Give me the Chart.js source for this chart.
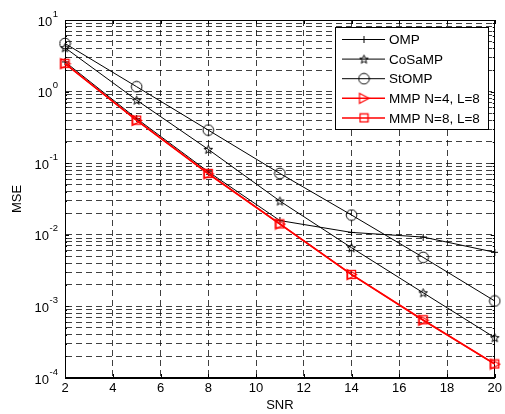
<!DOCTYPE html>
<html>
<head>
<meta charset="utf-8">
<script src="https://cdn.jsdelivr.net/npm/chart.js@4/dist/chart.umd.min.js"></script>
<style>
  html, body { margin: 0; padding: 0; background: #fff; }
  #wrap { width: 505px; height: 414px; }
</style>
</head>
<body>
<div id="wrap"><canvas id="c" width="505" height="414"></canvas></div>
<script>
/* datos */
const SNR = [2, 5, 8, 11, 14, 17, 20];
const OMP = [2.6, 0.42, 0.076, 0.0158, 0.0108, 0.0093, 0.0057];
const COSAMP = [4.1, 0.76, 0.156, 0.0296, 0.0066, 0.00155, 0.000366];
const STOMP = [4.7, 1.17, 0.29, 0.072, 0.0189, 0.00484, 0.00119];
const MMP_N4 = [2.45, 0.395, 0.071, 0.0141, 0.00278, 0.00064, 0.000156];
const MMP_N8 = [2.48, 0.40, 0.072, 0.0142, 0.0028, 0.00065, 0.000157];

const X_TICKS = [2, 4, 6, 8, 10, 12, 14, 16, 18, 20];
const Y_EXPONENTS = [-4, -3, -2, -1, 0, 1];
const LEGEND_LABELS = ["OMP", "CoSaMP", "StOMP", "MMP N=4, L=8", "MMP N=8, L=8"];

const FONT = "'Liberation Sans', Arial, Helvetica, sans-serif";
const RED = "#ff0000";

/* Marcadores estilo MATLAB */
function mkMarker(size, draw) {
    const c = document.createElement("canvas");
    c.width = size;
    c.height = size;
    const g = c.getContext("2d");
    draw(g, size / 2);
    return c;
}

const MK_PLUS = mkMarker(7, (g, m) => {
    g.strokeStyle = "#000";
    g.lineWidth = 1;
    g.beginPath();
    g.moveTo(m, 0); g.lineTo(m, 7);
    g.moveTo(0, m); g.lineTo(7, m);
    g.stroke();
});

const MK_STAR = mkMarker(11, (g, m) => {
    g.strokeStyle = "#000";
    g.lineWidth = 1;
    g.beginPath();
    for (let i = 0; i < 10; i++) {
        const r = i % 2 === 0 ? 4.5 : 1.9;
        const a = -Math.PI / 2 + i * Math.PI / 5;
        const px = m + r * Math.cos(a);
        const py = m + 0.4 + r * Math.sin(a);
        if (i === 0) g.moveTo(px, py); else g.lineTo(px, py);
    }
    g.closePath();
    g.stroke();
});

const MK_CIRCLE = mkMarker(13, (g, m) => {
    g.strokeStyle = "#000";
    g.lineWidth = 1;
    g.beginPath();
    g.arc(m, m, 5.3, 0, Math.PI * 2);
    g.stroke();
});

const MK_TRI = mkMarker(13, (g, m) => {
    g.strokeStyle = RED;
    g.lineWidth = 1.2;
    g.beginPath();
    g.moveTo(2, 1.5);
    g.lineTo(11.5, m);
    g.lineTo(2, 11.5);
    g.closePath();
    g.stroke();
});

const MK_SQUARE = mkMarker(11, (g, m) => {
    g.strokeStyle = RED;
    g.lineWidth = 1.3;
    g.strokeRect(1.5, 1.5, 8, 8);
});

const MARKERS = [MK_PLUS, MK_STAR, MK_CIRCLE, MK_TRI, MK_SQUARE];
const COLORS = ["#000", "#000", "#000", RED, RED];
const WIDTHS = [1, 1, 1, 1.5, 1.5];

/* Caja, ticks interiores, etiquetas 10^k y leyenda */
const matlabPlugin = {
    id: "matlabPlugin",
    beforeDatasetsDraw(chart) {
        const { ctx, chartArea: a, scales } = chart;
        ctx.save();
        ctx.strokeStyle = "#000";
        ctx.lineWidth = 1;
        ctx.setLineDash([]);
        ctx.strokeRect(Math.round(a.left) + 0.5, Math.round(a.top) + 0.5,
            Math.round(a.right - a.left) - 1, Math.round(a.bottom - a.top) - 1);

        // ticks interiores en x
        ctx.beginPath();
        for (const v of X_TICKS) {
            const x = Math.round(scales.x.getPixelForValue(v)) + 0.5;
            ctx.moveTo(x, a.bottom); ctx.lineTo(x, a.bottom - 4);
            ctx.moveTo(x, a.top); ctx.lineTo(x, a.top + 4);
        }
        // ticks interiores en y
        for (const t of scales.y.ticks) {
            const y = Math.round(scales.y.getPixelForValue(t.value)) + 0.5;
            const major = Math.abs(Math.log10(t.value) - Math.round(Math.log10(t.value))) < 1e-9;
            const len = major ? 4 : 2;
            ctx.moveTo(a.left, y); ctx.lineTo(a.left + len, y);
            ctx.moveTo(a.right, y); ctx.lineTo(a.right - len, y);
        }
        ctx.stroke();
        ctx.restore();
    },
    afterDraw(chart) {
        const { ctx, scales } = chart;
        ctx.save();
        ctx.fillStyle = "#000";
        ctx.textBaseline = "middle";
        ctx.textAlign = "right";

        // etiquetas del eje y con exponente
        for (const k of Y_EXPONENTS) {
            const y = scales.y.getPixelForValue(Math.pow(10, k));
            const exp = String(k);
            ctx.font = "9.5px " + FONT;
            const ew = ctx.measureText(exp).width;
            ctx.fillText(exp, 58, y - 6);
            ctx.font = "13px " + FONT;
            ctx.fillText("10", 58 - ew - 0.5, y + 2);
        }

        // leyenda
        const bx = 335.5, by = 27.5, bw = 153, bh = 102;
        ctx.fillStyle = "#fff";
        ctx.fillRect(bx, by, bw, bh);
        ctx.strokeStyle = "#000";
        ctx.lineWidth = 1;
        ctx.strokeRect(bx, by, bw, bh);

        ctx.textAlign = "left";
        ctx.font = "13.5px " + FONT;
        LEGEND_LABELS.forEach((lab, i) => {
            const y = 39.5 + i * 19.6;
            ctx.strokeStyle = COLORS[i];
            ctx.lineWidth = WIDTHS[i];
            ctx.beginPath();
            ctx.moveTo(342, y);
            ctx.lineTo(385, y);
            ctx.stroke();
            const mk = MARKERS[i];
            ctx.drawImage(mk, 364 - mk.width / 2, y - mk.height / 2);
            ctx.fillStyle = "#000";
            ctx.fillText(lab, 389, y + 1);
        });
        ctx.restore();
    }
};

function serie(label, data, i) {
    return {
        label,
        data: SNR.map((x, j) => ({ x, y: data[j] })),
        borderColor: COLORS[i],
        backgroundColor: COLORS[i],
        borderWidth: WIDTHS[i],
        pointStyle: MARKERS[i],
        pointRadius: 5,
        pointHoverRadius: 5,
        tension: 0,
        clip: false,
        order: 5 - i
    };
}

new Chart(document.getElementById("c"), {
    type: "line",
    data: {
        datasets: [
            serie(LEGEND_LABELS[0], OMP, 0),
            serie(LEGEND_LABELS[1], COSAMP, 1),
            serie(LEGEND_LABELS[2], STOMP, 2),
            serie(LEGEND_LABELS[3], MMP_N4, 3),
            serie(LEGEND_LABELS[4], MMP_N8, 4)
        ]
    },
    options: {
        responsive: false,
        animation: false,
        events: [],
        layout: { padding: { top: 20, right: 10, left: 0, bottom: 0 } },
        plugins: {
            legend: { display: false },
            tooltip: { enabled: false }
        },
        scales: {
            x: {
                type: "linear",
                min: 2,
                max: 20,
                offset: false,
                afterBuildTicks: s => { s.ticks = X_TICKS.map(v => ({ value: v })); },
                afterFit: s => { s.height = 36; },
                ticks: {
                    color: "#000",
                    padding: 3,
                    maxRotation: 0,
                    font: { family: FONT, size: 13 }
                },
                grid: {
                    color: "rgba(0,0,0,0.75)",
                    lineWidth: 1,
                    drawTicks: false
                },
                border: { display: true, color: "#000", width: 1, dash: [6, 4] },
                title: {
                    display: true,
                    text: "SNR",
                    color: "#000",
                    font: { family: FONT, size: 13 },
                    padding: { top: 0, bottom: 1 }
                }
            },
            y: {
                type: "logarithmic",
                min: 1e-4,
                max: 10,
                afterBuildTicks: s => {
                    const t = [];
                    for (let k = -4; k <= 0; k++) {
                        for (let m = 1; m <= 9; m++) t.push({ value: m * Math.pow(10, k) });
                    }
                    t.push({ value: 10 });
                    s.ticks = t;
                },
                afterFit: s => { s.width = 65; },
                ticks: { display: false },
                grid: {
                    color: "rgba(0,0,0,0.75)",
                    lineWidth: 1,
                    drawTicks: false
                },
                border: { display: true, color: "#000", width: 1, dash: [6, 4] },
                title: {
                    display: true,
                    text: "MSE",
                    color: "#000",
                    font: { family: FONT, size: 13 },
                    padding: { top: 10, bottom: 0 }
                }
            }
        }
    },
    plugins: [matlabPlugin]
});
</script>
</body>
</html>
